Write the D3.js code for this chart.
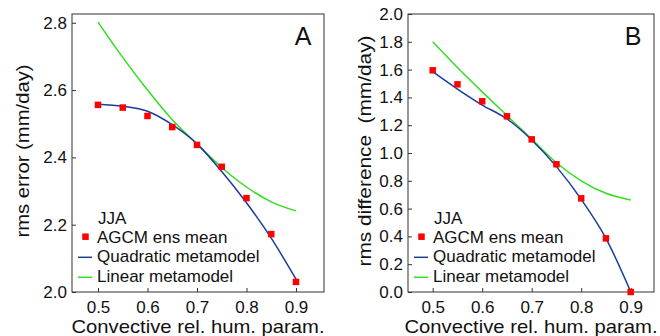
<!DOCTYPE html>
<html>
<head>
<meta charset="utf-8">
<script src="https://cdn.jsdelivr.net/npm/d3@7"></script>
<style>
  body { margin: 0; background: #fff; }
  text { font-family: "Liberation Sans", Arial, Helvetica, sans-serif; fill: #111; }
</style>
</head>
<body>
<script>
// parameter values along the x axis
const params = [0.5, 0.55, 0.6, 0.65, 0.7, 0.75, 0.8, 0.85, 0.9];

// panel A: rms error
const agcmA = [2.556, 2.548, 2.523, 2.490, 2.437, 2.372, 2.279, 2.172, 2.030];
const quadA = [2.558, 2.552, 2.537, 2.497, 2.440, 2.358, 2.265, 2.160, 2.038];
const linA  = [2.802, 2.697, 2.600, 2.512, 2.440, 2.370, 2.312, 2.268, 2.241];

// panel B: rms difference
const agcmB = [1.595, 1.494, 1.372, 1.264, 1.098, 0.919, 0.674, 0.386, 0.0];
const quadB = [1.585, 1.460, 1.345, 1.245, 1.094, 0.902, 0.667, 0.386, 0.002];
const linB  = [1.800, 1.615, 1.440, 1.270, 1.100, 0.930, 0.800, 0.710, 0.662];

const xTicks  = [0.5, 0.6, 0.7, 0.8, 0.9];
const yTicksA = [2.0, 2.2, 2.4, 2.6, 2.8];
const yTicksB = [0.0, 0.2, 0.4, 0.6, 0.8, 1.0, 1.2, 1.4, 1.6, 1.8, 2.0];

const legendTitle = "JJA";
const legendLabels = ["AGCM ens mean", "Quadratic metamodel", "Linear metamodel"];

const red = "#ff0000", blue = "#1c3c9c", green = "#33dd22";

const svg = d3.select("body").append("svg")
    .attr("width", 660)
    .attr("height", 336);

const plotTop = 14, plotBottom = 292;

function panel(o) {
  const x = d3.scaleLinear().domain(o.xDomain).range([o.left, o.right]);
  const y = d3.scaleLinear().domain(o.yDomain).range([plotBottom, plotTop]);
  const g = svg.append("g");

  // axes, ticks pointing inward
  g.append("g")
    .attr("transform", `translate(0,${plotBottom})`)
    .call(d3.axisBottom(x).tickValues(xTicks).tickFormat(d3.format(".1f"))
      .tickSizeInner(-4).tickSizeOuter(0).tickPadding(9))
    .call(a => a.select(".domain").remove())
    .call(a => a.selectAll("line").attr("stroke", "#333"))
    .call(a => a.selectAll("text").attr("font-size", 17).attr("fill", "#111")
      .style("font-family", "'Liberation Sans', Arial, sans-serif"));

  g.append("g")
    .attr("transform", `translate(${o.left},0)`)
    .call(d3.axisLeft(y).tickValues(o.yTicks).tickFormat(d3.format(".1f"))
      .tickSizeInner(-4).tickSizeOuter(0).tickPadding(5))
    .call(a => a.select(".domain").remove())
    .call(a => a.selectAll("line").attr("stroke", "#333"))
    .call(a => a.selectAll("text").attr("font-size", 17).attr("fill", "#111")
      .style("font-family", "'Liberation Sans', Arial, sans-serif"));

  // frame
  g.append("rect")
    .attr("x", o.left).attr("y", plotTop)
    .attr("width", o.right - o.left).attr("height", plotBottom - plotTop)
    .attr("fill", "none").attr("stroke", "#333").attr("stroke-width", 1);

  // titles
  g.append("text")
    .attr("x", (o.left + o.right) / 2).attr("y", 333)
    .attr("text-anchor", "middle").attr("font-size", 19)
    .attr("textLength", 253).attr("lengthAdjust", "spacingAndGlyphs")
    .text("Convective rel. hum. param.");

  g.append("text")
    .attr("transform", `translate(${o.yTitleX},${(plotTop + plotBottom) / 2 - 2}) rotate(-90)`)
    .attr("text-anchor", "middle").attr("font-size", 19)
    .attr("textLength", o.yTitleLen).attr("lengthAdjust", "spacingAndGlyphs")
    .style("white-space", "pre")
    .text(o.yTitle);

  g.append("text")
    .attr("x", o.right - 21).attr("y", 45)
    .attr("text-anchor", "middle").attr("font-size", 25)
    .text(o.label);

  // lines
  const line = d3.line()
    .x((d, i) => x(params[i]))
    .y(d => y(d))
    .curve(d3.curveMonotoneX);

  g.append("path").datum(o.lin)
    .attr("d", line).attr("fill", "none")
    .attr("stroke", green).attr("stroke-width", 1.5);

  g.append("path").datum(o.quad)
    .attr("d", line).attr("fill", "none")
    .attr("stroke", blue).attr("stroke-width", 1.5);

  // points
  const s = 6.5;
  g.selectAll("rect.pt").data(o.agcm).join("rect")
    .attr("class", "pt")
    .attr("x", (d, i) => x(params[i]) - s / 2)
    .attr("y", d => y(d) - s / 2)
    .attr("width", s).attr("height", s)
    .attr("fill", red);

  // legend
  const lx = o.left;
  g.append("text").attr("x", lx + 26).attr("y", 223.5)
    .attr("font-size", 17).text(legendTitle);

  g.append("rect").attr("x", lx + 13.5 - s / 2).attr("y", 236.7 - s / 2)
    .attr("width", s).attr("height", s).attr("fill", red);
  g.append("line").attr("x1", lx + 6).attr("x2", lx + 20)
    .attr("y1", 257.3).attr("y2", 257.3)
    .attr("stroke", blue).attr("stroke-width", 1.5);
  g.append("line").attr("x1", lx + 6).attr("x2", lx + 20)
    .attr("y1", 277.3).attr("y2", 277.3)
    .attr("stroke", green).attr("stroke-width", 1.5);

  g.selectAll("text.leg").data(legendLabels).join("text")
    .attr("class", "leg")
    .attr("x", lx + 25)
    .attr("y", (d, i) => 242.7 + i * 19.7)
    .attr("font-size", 17)
    .text(d => d);
}

panel({
  left: 72, right: 324,
  xDomain: [0.4475, 0.9566],
  yDomain: [2.0, 2.826],
  yTicks: yTicksA,
  agcm: agcmA, quad: quadA, lin: linA,
  yTitle: "rms error (mm/day)", yTitleX: 29, yTitleLen: 173,
  label: "A"
});

panel({
  left: 408, right: 654,
  xDomain: [0.4501, 0.9471],
  yDomain: [0.0, 2.0],
  yTicks: yTicksB,
  agcm: agcmB, quad: quadB, lin: linB,
  yTitle: "rms difference  (mm/day)", yTitleX: 371, yTitleLen: 231,
  label: "B"
});
</script>
</body>
</html>
